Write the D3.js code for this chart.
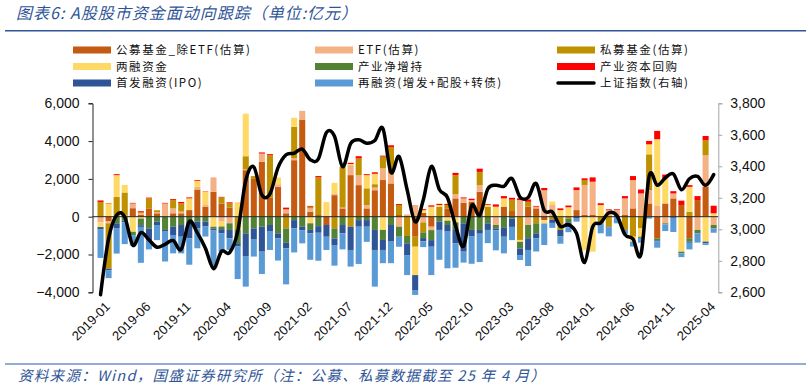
<!DOCTYPE html>
<html>
<head>
<meta charset="utf-8">
<script src="https://cdn.jsdelivr.net/npm/d3@7"></script>
<style>
  body { margin: 0; background: #fff; }
  svg { display: block; }
</style>
</head>
<body>
<div id="chart"></div>
<script>
"use strict"

// categories: monthly, 2019-01 .. 2025-05
let months = [];
for (let y = 2019; y <= 2025; y++) {
  for (let m = 1; m <= 12; m++) {
    if (y == 2025 && m > 5) break;
    months.push(`${y}-${String(m).padStart(2, '0')}`);
  }
}

// 亿元
let gm = [0, -250, 0, 0, 450, 100, 440, 180, 0, 180,
          180, 350, 1440, 530, 1320, 700, 490, 0, 2460, 2000,
          2900, 1000, 1580, 180, 2990, 5140, 260, 90, -440, 1140,
          440, 2200, 1670, 440, 1400, 1940, 1760, 90, 60, -1060,
          200, -530, 0, 440, 970, 740, 790, 1320, 0, 0,
          530, 300, 0, 530, 440, -180, 0, 0, 0, 350,
          100, 90, 0, 0, 0, 90, 440, 0, 700, -1150,
          700, 970, 620, -1140, 880, 1580, 0];
let etf = [-300, -100, 0, 50, 250, 80, 0, 60, 700, 260,
           90, 0, 140, 90, 760, -260, -350, 60, 40, 0,
           440, 0, 140, 210, 100, 460, 180, 0, 70, 90,
           40, 530, 530, 180, 140, 620, 530, -530, 60, 620,
           -300, -180, 0, 0, 230, 230, 90, 350, 0, -440,
           0, 0, 880, -440, 90, 1400, 620, 0, 0, 1060,
           1580, 1760, 0, 350, 350, 880, 1500, 1230, 700, 600,
           -350, 260, 0, 0, -700, 1670, -440];
let sm = [780, -2400, 1050, 1230, 0, 60, 530, 100, 0, 440,
          440, 0, 0, 0, 0, 320, 210, -700, 700, 150,
          0, 2250, 0, -620, 1670, 0, 90, 1990, 0, -620,
          2160, -530, 880, 880, 180, 620, 1400, 530, -1020, -530,
          -530, 0, 530, 180, 1000, 0, 0, 700, 530, 0,
          0, 600, -1230, 260, -350, 0, -150, -700, -100, 0,
          260, 0, -350, -530, 0, -700, -1060, -620, 1900, 0,
          0, 0, 0, 260, 0, 790, 0];
let rz = [-250, 700, 1150, 400, -800, -100, 0, 0, 0, 0,
          0, 620, 320, 700, -530, -260, 0, 700, 2250, 0,
          0, 0, 350, 0, 475, 0, -350, 0, 700, 560,
          0, 60, 0, 700, 550, -700, 0, 0, 0, -1500,
          150, 530, 90, -210, -300, 0, 0, 0, 100, 530,
          440, 0, -100, 0, 0, -180, 180, 350, 500, 0,
          -1760, -1850, 620, 0, 0, 0, -260, -440, 530, 3500,
          1350, 0, -1850, 1320, 0, -1320, 180];
let cy = [0, 0, -350, -200, -180, -350, -620, -260, -700, -530,
          -440, -260, -260, -260, -100, -140, -350, -700, -880, -620,
          -530, -440, -880, -760, -180, -530, -350, -500, 0, -530,
          -440, 0, -180, -180, -700, -530, -440, -530, -390, 0,
          -300, -530, -260, -230, -400, -350, -700, -700, -350, -180,
          -560, -100, -350, -700, -530, 0, 0, 0, -200, 0,
          0, 0, 0, 0, 0, 0, 0, -60, 0, -100,
          -60, 0, -90, -180, -180, 0, -180];
let hg = [80, 20, 50, 0, 30, 50, 40, 0, 30, 50,
          70, 50, 40, 20, 0, 30, 60, 0, 0, 0,
          60, 60, 0, 90, 0, 0, 40, 70, 0, 0,
          0, 60, 120, 50, 80, 50, 90, 50, 0, 0,
          50, 70, 60, 60, 120, 50, 70, 170, 40, 120,
          120, 100, 90, 120, 40, 120, 0, 90, 90, 140,
          90, 230, 90, 40, 40, 120, 210, 210, 180, 440,
          180, 120, 230, 90, 210, 230, 400];
let ipo = [-130, -80, -250, -100, 0, -90, -620, -180, -90, -440,
           -620, -880, -350, -260, -100, -210, -440, -180, -1200, -560,
           -1320, -350, -260, -300, -440, -180, -180, -350, -620, -350,
           -440, -1230, -350, -350, -1060, -530, -880, 0, -620, -790,
           -180, -350, -440, -350, -700, -1500, -350, -200, -350, -100,
           -500, -440, -350, -620, -260, 0, -180, -350, -260, -100,
           0, 0, 0, -40, 0, 0, 0, 0, 0, -40,
           0, -60, 0, -60, 0, -90, 0];
let zrz = [-1500, -420, -1350, -1150, -550, -1900, -490, -800, -1580, -970,
           -880, -1400, -1060, -530, -1900, -970, -620, -1720, -1620, -930,
           -1180, -970, -1180, -1900, -1270, -700, -1400, -1480, -700, -1090,
           -850, -880, -1970, -800, -1940, -700, -1140, -530, -1060, -260,
           -300, -1500, -1580, -1940, -1300, -580, -1440, -1500, -700, -1060,
           -880, -700, -260, -850, -700, -1140, -260, -380, -260, -160,
           0, 0, -530, -470, -350, -200, -260, -260, -100, -350,
           -350, -750, -200, -350, -490, -90, -230];

// 上证指数 month end (右轴)
let sh = [2585, 2941, 3091, 3078, 2899, 2979, 2933, 2886, 2905, 2929, 2872, 3050,
          2977, 2880, 2750, 2860, 2852, 2985, 3310, 3396, 3218, 3225, 3392, 3473,
          3483, 3509, 3442, 3447, 3615, 3591, 3397, 3544, 3568, 3547, 3564, 3640,
          3361, 3462, 3252, 3047, 3186, 3399, 3253, 3202, 3024, 2893, 3151, 3089,
          3256, 3280, 3273, 3323, 3205, 3202, 3291, 3120, 3110, 3019, 3030, 2975,
          2789, 3015, 3041, 3105, 3087, 2967, 2939, 2842, 3337, 3280, 3326, 3352,
          3251, 3321, 3336, 3279, 3347];

let leftTicks = [-4000, -2000, 0, 2000, 4000, 6000];
let rightTicks = [2600, 2800, 3000, 3200, 3400, 3600, 3800];

let series = [
  {key: 'gm', name: '公募基金_除ETF(估算)', color: '#C55A11', values: gm},
  {key: 'etf', name: 'ETF(估算)', color: '#F4B183', values: etf},
  {key: 'sm', name: '私募基金(估算)', color: '#BF9000', values: sm},
  {key: 'rz', name: '两融资金', color: '#FFD966', values: rz},
  {key: 'cy', name: '产业净增持', color: '#548235', values: cy},
  {key: 'hg', name: '产业资本回购', color: '#FF0000', values: hg},
  {key: 'ipo', name: '首发融资(IPO)', color: '#2F5597', values: ipo},
  {key: 'zrz', name: '再融资(增发+配股+转债)', color: '#5B9BD5', values: zrz},
];

let W = 810, H = 388;
let blue = '#2F5597';
let numFont = '"Liberation Sans", Arial, sans-serif';

let svg = (
  d3.select('#chart')
    .append('svg')
    .attr('width', W)
    .attr('height', H)
    .style('font-family', '"Noto Sans CJK SC", "Noto Sans", sans-serif'));

let x = (d3.scaleBand()
  .domain(months)
  .range([96.5, 717.7])
  .paddingInner(0.25)
  .paddingOuter(0.125));

let y = d3.scaleLinear().domain([-4000, 6000]).range([292.3, 103.3]);
let y2 = d3.scaleLinear().domain([2600, 3800]).range([292.3, 103.3]);

// Title + rules
(svg.append('text')
  .attr('x', 16)
  .attr('y', 19)
  .attr('fill', blue)
  .style('font-size', '16px')
  .style('font-style', 'italic')
  .style('letter-spacing', '1px')
  .text('图表6: A股股市资金面动向跟踪（单位:亿元）'));

(svg.append('line')
  .attr('x1', 5).attr('x2', 806)
  .attr('y1', 30.7).attr('y2', 30.7)
  .attr('stroke', blue)
  .attr('stroke-width', 1.5));

(svg.append('line')
  .attr('x1', 5).attr('x2', 806)
  .attr('y1', 364).attr('y2', 364)
  .attr('stroke', '#6F90C8')
  .attr('stroke-width', 1.3));

(svg.append('text')
  .attr('x', 18)
  .attr('y', 381)
  .attr('fill', blue)
  .style('font-size', '14.5px')
  .style('font-style', 'italic')
  .style('letter-spacing', '1.3px')
  .text('资料来源：Wind，国盛证券研究所（注：公募、私募数据截至 25 年 4 月）'));

// Legend, 3 columns
let legendItems = series.concat([{key: 'sh', name: '上证指数(右轴)', color: '#000'}]);
let legend = (svg.selectAll('g.leg')
  .data(legendItems)
  .enter()
    .append('g')
      .attr('class', 'leg')
      .attr('transform', (d, i) => `translate(${[73, 315, 557][i % 3]},${50 + 16.5 * Math.floor(i / 3)})`));

(legend.filter((d) => d.key != 'sh')
  .append('rect')
    .attr('x', 0)
    .attr('y', -3.5)
    .attr('width', 38)
    .attr('height', 7)
    .attr('fill', (d) => d.color));

(legend.filter((d) => d.key == 'sh')
  .append('line')
    .attr('x1', 1).attr('x2', 37)
    .attr('y1', 0).attr('y2', 0)
    .attr('stroke', '#000')
    .attr('stroke-width', 3.5)
    .attr('stroke-linecap', 'round'));

(legend.append('text')
  .attr('x', 43)
  .attr('y', 0)
  .attr('dy', '0.36em')
  .style('font-size', '11.5px')
  .style('letter-spacing', '1.6px')
  .attr('fill', '#111')
  .text((d) => d.name));

// Stack bars
let rows = months.map((m, i) => {
  let r = {month: m};
  series.forEach((s) => r[s.key] = s.values[i]);
  return r;
});

let stacked = (d3.stack()
  .keys(series.map((s) => s.key))
  .offset(d3.stackOffsetDiverging))(rows);

(svg.append('g')
  .selectAll('g')
    .data(stacked)
  .enter()
    .append('g')
      .attr('fill', (d, i) => series[i].color)
    .selectAll('rect')
      .data((d) => d)
    .enter()
      .append('rect')
        .attr('x', (d) => x(d.data.month))
        .attr('width', x.bandwidth())
        .attr('y', (d) => y(d[1]))
        .attr('height', (d) => Math.max(0, y(d[0]) - y(d[1]))));

// Zero line (category axis)
(svg.append('line')
  .attr('x1', 92.5).attr('x2', 718.3)
  .attr('y1', y(0)).attr('y2', y(0))
  .attr('stroke', '#222')
  .attr('stroke-width', 1));

// Left axis
let gl = (svg.append('g')
  .attr('transform', 'translate(92.5,0)')
  .call(d3.axisLeft(y).tickValues(leftTicks).tickFormat(d3.format(',')).tickSize(4).tickPadding(9)));
gl.select('.domain').attr('stroke', '#222');
gl.selectAll('.tick line').attr('stroke', '#222');
gl.selectAll('text').style('font-size', '14px').style('font-family', numFont).attr('fill', '#111');

// Right axis
let gr = (svg.append('g')
  .attr('transform', 'translate(718.3,0)')
  .call(d3.axisRight(y2).tickValues(rightTicks).tickFormat(d3.format(',')).tickSize(4).tickPadding(8)));
gr.select('.domain').attr('stroke', '#A6A6A6');
gr.selectAll('.tick line').attr('stroke', '#A6A6A6');
gr.selectAll('text').style('font-size', '14px').style('font-family', numFont).attr('fill', '#111');

// Month labels, rotated
(svg.append('g')
  .selectAll('text')
    .data(months.filter((m, i) => i % 5 == 0))
  .enter()
    .append('text')
      .attr('text-anchor', 'end')
      .attr('transform', (d) => `translate(${x(d) + x.bandwidth() / 2 + 4},${301}) rotate(-45)`)
      .attr('dy', '0.7em')
      .style('font-size', '13px')
      .style('font-family', numFont)
      .attr('fill', '#111')
      .text((d) => d));

// 上证指数 line
let line = (d3.line()
  .x((d, i) => x(months[i]) + x.bandwidth() / 2)
  .y((d) => y2(d))
  .curve(d3.curveCardinal.tension(0)));

(svg.append('path')
  .datum(sh)
  .attr('d', line)
  .attr('fill', 'none')
  .attr('stroke', '#000')
  .attr('stroke-width', 3.5)
  .attr('stroke-linejoin', 'round')
  .attr('stroke-linecap', 'round'));
</script>
</body>
</html>
